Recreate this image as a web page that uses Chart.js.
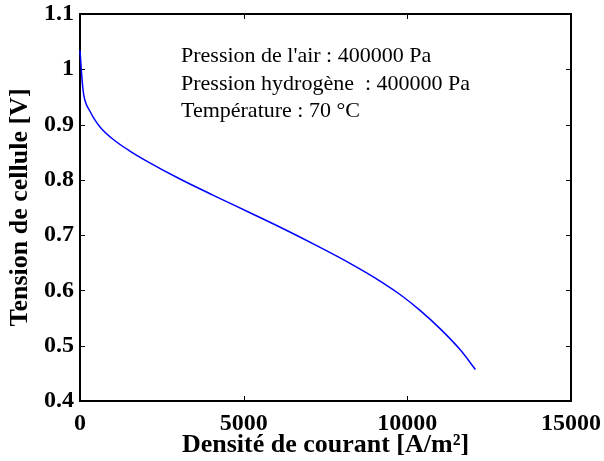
<!DOCTYPE html>
<html>
<head>
<meta charset="utf-8">
<script src="https://cdn.jsdelivr.net/npm/chart.js@4.4.1/dist/chart.umd.min.js"></script>
<style>
  html, body { margin: 0; padding: 0; background: #fff; }
  #wrap { width: 604px; height: 461px; }
</style>
</head>
<body>
<div id="wrap"><canvas id="c"></canvas></div>
<script>
// courbe de polarisation
const densite = [0, 40, 92, 145, 296, 449, 650, 1018, 1500, 2037, 3055, 4074, 5194, 6212, 7231, 8249, 9167, 9777, 10388, 10999, 11610, 12080];
const tension = [1.035, 0.999, 0.963, 0.945, 0.925, 0.909, 0.893, 0.873, 0.853, 0.834, 0.8015, 0.772, 0.7405, 0.7115, 0.681, 0.649, 0.617, 0.5926, 0.5639, 0.5309, 0.493, 0.457];

const xTicks = [0, 5000, 10000, 15000];
const yTicks = [0.4, 0.5, 0.6, 0.7, 0.8, 0.9, 1.0, 1.1];

const notes = [
  "Pression de l'air : 400000 Pa",
  "Pression hydrogène  : 400000 Pa",
  "Température : 70 °C"
];

const points = densite.map((d, i) => ({ x: d, y: tension[i] }));

// cadre + graduations vers l'interieur (sous la courbe) + texte d'annotation
const boxPlugin = {
  id: 'box',
  beforeDatasetsDraw(chart) {
    const ctx = chart.ctx;
    const a = chart.chartArea;
    const xs = chart.scales.x, ys = chart.scales.y;
    ctx.save();
    ctx.strokeStyle = '#000';
    ctx.lineWidth = 1;
    const t = 5;
    ctx.beginPath();
    xTicks.forEach(v => {
      const px = Math.round(xs.getPixelForValue(v)) + 0.5;
      ctx.moveTo(px, a.bottom); ctx.lineTo(px, a.bottom - t);
      ctx.moveTo(px, a.top); ctx.lineTo(px, a.top + t);
    });
    yTicks.forEach(v => {
      const py = Math.round(ys.getPixelForValue(v)) + 0.5;
      ctx.moveTo(a.left, py); ctx.lineTo(a.left + t, py);
      ctx.moveTo(a.right, py); ctx.lineTo(a.right - t, py);
    });
    ctx.stroke();
    ctx.lineWidth = 2;
    ctx.strokeRect(a.left, a.top, a.right - a.left, a.bottom - a.top);
    ctx.restore();
  },
  afterDraw(chart) {
    const ctx = chart.ctx;
    const a = chart.chartArea;
    ctx.save();
    ctx.fillStyle = '#000';
    ctx.font = '22px "Liberation Serif"';
    ctx.textBaseline = 'alphabetic';
    notes.forEach((s, i) => {
      ctx.fillText(s, a.left + 101, a.top + 48 + i * 27.5);
    });
    ctx.restore();
  }
};

const noPad = s => {
  s.paddingLeft = 0; s.paddingRight = 0; s.paddingTop = 0; s.paddingBottom = 0;
};

const tickFont = { family: 'Liberation Serif', size: 24, weight: 'bold' };
const titleFont = { family: 'Liberation Serif', size: 26, weight: 'bold' };

new Chart(document.getElementById('c'), {
  type: 'line',
  data: {
    datasets: [{
      data: points,
      borderColor: '#0000ff',
      borderWidth: 1.5,
      pointRadius: 0,
      cubicInterpolationMode: 'monotone',
      clip: 2,
      fill: false
    }]
  },
  options: {
    responsive: true,
    maintainAspectRatio: false,
    animation: false,
    layout: { padding: { top: 14, right: 33, bottom: 0, left: 0 } },
    plugins: { legend: { display: false }, tooltip: { enabled: false } },
    scales: {
      x: {
        type: 'linear',
        min: 0, max: 15000,
        afterBuildTicks: s => { s.ticks = xTicks.map(v => ({ value: v })); },
        afterFit: s => { s.height = 60; noPad(s); },
        grid: { display: false, drawTicks: false },
        border: { display: false },
        ticks: { color: '#000', font: tickFont, padding: 8, maxRotation: 0, callback: v => String(v) },
        title: { display: true, text: 'Densité de courant [A/m²]', color: '#000', font: titleFont, padding: { top: 0, bottom: 0 } }
      },
      y: {
        min: 0.4, max: 1.1,
        afterBuildTicks: s => { s.ticks = yTicks.map(v => ({ value: v })); },
        afterFit: s => { s.width = 80; noPad(s); },
        grid: { display: false, drawTicks: false },
        border: { display: false },
        ticks: { color: '#000', font: tickFont, padding: 6, callback: v => (v === 1 ? '1' : String(Math.round(v * 10) / 10)) },
        title: { display: true, text: 'Tension de cellule [V]', color: '#000', font: titleFont, padding: { top: 5, bottom: 0 } }
      }
    }
  },
  plugins: [boxPlugin]
});
</script>
</body>
</html>
